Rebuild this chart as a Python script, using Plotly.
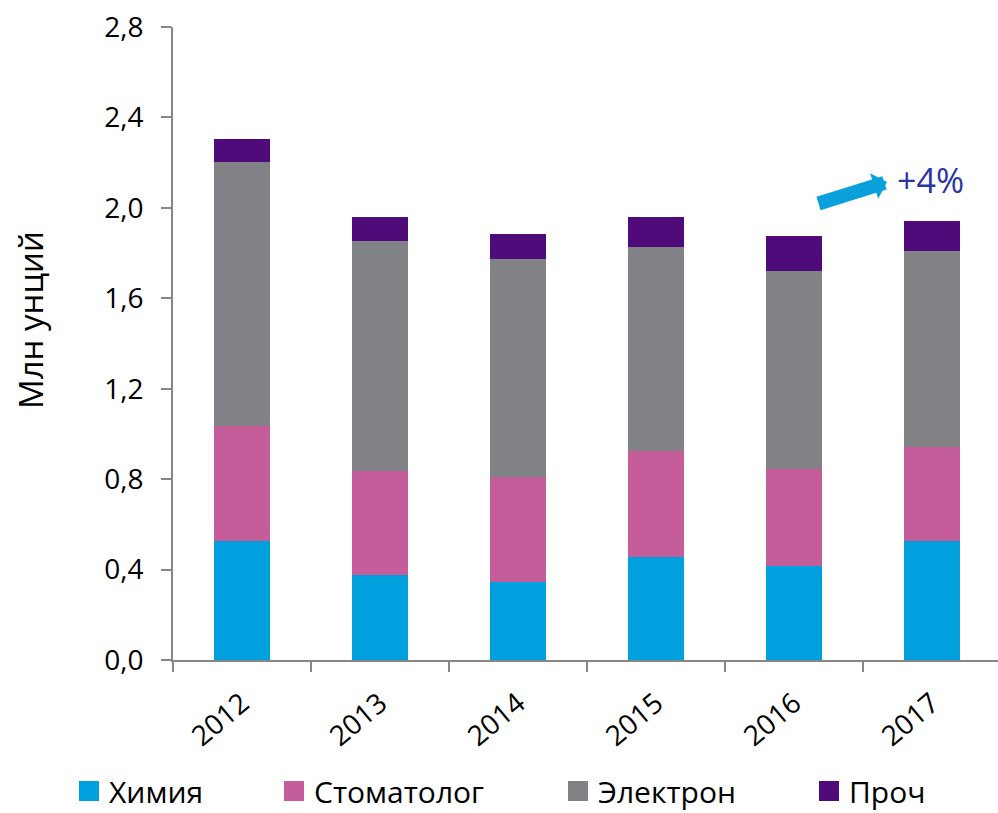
import plotly.graph_objects as go

years = ["2012", "2013", "2014", "2015", "2016", "2017"]
khimiya = [0.527, 0.376, 0.345, 0.456, 0.416, 0.527]
stomatolog = [0.508, 0.460, 0.465, 0.469, 0.429, 0.415]
elektron = [1.169, 1.018, 0.964, 0.902, 0.876, 0.868]
proch = [0.101, 0.106, 0.111, 0.133, 0.155, 0.132]
series_names = ["Химия", "Стоматолог", "Электрон", "Проч"]
colors = ["#00a0df", "#c55d9b", "#808285", "#4f0b79"]
y_ticks = [0.0, 0.4, 0.8, 1.2, 1.6, 2.0, 2.4, 2.8]

W, H = 998, 813
L, R, T, B = 173, 0, 27, 153
pw, ph = W - L - R, H - T - B

FONT = "Open Sans"
fig = go.Figure()
legend_ids = ["legend", "legend2", "legend3", "legend4"]
for name, vals, col, lg in zip(series_names, [khimiya, stomatolog, elektron, proch], colors, legend_ids):
    fig.add_trace(go.Bar(x=years, y=vals, name=name, marker=dict(color=col, line=dict(width=0)),
                         width=0.4, showlegend=False, legendgroup=name))
    # legend entry with a larger square swatch
    fig.add_trace(go.Scatter(x=[None], y=[None], mode="markers", name=name, legend=lg,
                             legendgroup=name, hoverinfo="skip",
                             marker=dict(symbol="square", size=16, color=col,
                                         line=dict(color=col, width=4))))

def px_x(p):
    return (p - L) / pw

def px_y(p):
    return (H - B - p) / ph

legend_sym_center = [88, 293, 577, 828]
leg_common = dict(orientation="h", yanchor="middle", xanchor="left",
                  font=dict(family=FONT, size=30, color="#000000"),
                  bgcolor="rgba(0,0,0,0)", borderwidth=0, itemwidth=30)
layout_legends = {}
for lg, sx in zip(legend_ids, legend_sym_center):
    layout_legends[lg] = dict(x=px_x(sx - 19), y=px_y(791), **leg_common)

fig.update_layout(
    width=W, height=H,
    margin=dict(l=L, r=R, t=T, b=B, autoexpand=False),
    barmode="stack",
    plot_bgcolor="white", paper_bgcolor="white",
    separators=",.",
    font=dict(family=FONT, color="#000000"),
    xaxis=dict(type="category", range=[-0.5, -0.5 + 825 / 138], showline=True, linecolor="#868686",
               linewidth=2, ticks="outside", tickson="boundaries", ticklen=10, tickcolor="#868686",
               tickwidth=2, tickangle=-40, tickfont=dict(family=FONT, size=28, color="#000000"),
               showgrid=False, zeroline=False, ticklabelstandoff=14),
    yaxis=dict(range=[0, 2.8], tickvals=y_ticks, tickformat=".1f", showline=True, linecolor="#868686",
               linewidth=2, ticks="outside", ticklen=10, tickcolor="#868686", tickwidth=2,
               tickfont=dict(family=FONT, size=28, color="#000000"), showgrid=False, zeroline=False,
               ticklabelstandoff=12),
    **layout_legends,
)

fig.add_annotation(text="Млн унций", xref="paper", yref="paper", x=px_x(30), y=px_y(320),
                   textangle=-90, showarrow=False, font=dict(family=FONT, size=33, color="#000000"),
                   xanchor="center", yanchor="middle")
fig.add_annotation(text="+4%", xref="paper", yref="paper", x=px_x(895), y=px_y(180),
                   showarrow=False, xanchor="left", yanchor="middle",
                   font=dict(family=FONT, size=34, color="#2b35a6"))
fig.add_annotation(text="", xref="paper", yref="paper", x=px_x(887), y=px_y(182),
                   ax=-70, ay=22, showarrow=True, arrowhead=1, arrowsize=0.32, arrowwidth=14,
                   arrowcolor="#0aa0dc")

fig.write_html("out.html", config={"displayModeBar": False},
               post_script="document.body.style.margin='0';document.body.style.overflow='hidden';")
